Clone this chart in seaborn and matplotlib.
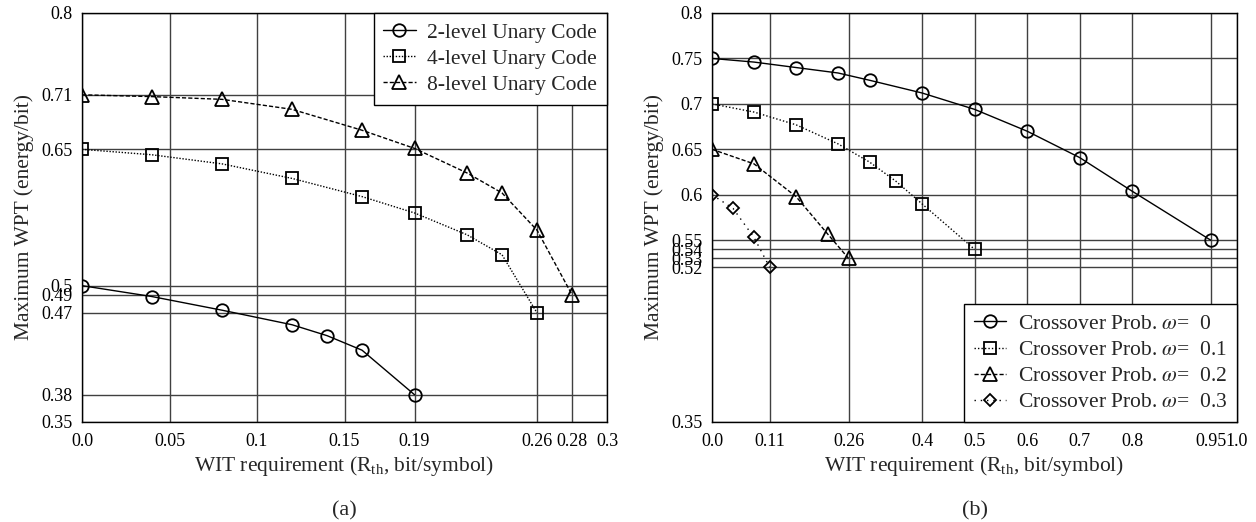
import matplotlib
matplotlib.use("Agg")
import matplotlib.pyplot as plt
import seaborn as sns

# ---- panel (a): unary codes ----
a_x2 = [0.0, 0.04, 0.08, 0.12, 0.14, 0.16, 0.19]
a_y2 = [0.50, 0.488, 0.473, 0.457, 0.445, 0.429, 0.38]
a_x4 = [0.0, 0.04, 0.08, 0.12, 0.16, 0.19, 0.22, 0.24, 0.26]
a_y4 = [0.65, 0.644, 0.634, 0.618, 0.598, 0.58, 0.556, 0.534, 0.47]
a_x8 = [0.0, 0.04, 0.08, 0.12, 0.16, 0.19, 0.22, 0.24, 0.26, 0.28]
a_y8 = [0.71, 0.708, 0.705, 0.694, 0.671, 0.651, 0.624, 0.602, 0.561, 0.49]
a_labels = ["2-level Unary Code", "4-level Unary Code", "8-level Unary Code"]
a_xticks = [0.0, 0.05, 0.1, 0.15, 0.19, 0.26, 0.28, 0.3]
a_xticklabels = ["0.0", "0.05", "0.1", "0.15", "0.19", "0.26", "0.28", "0.3"]
a_yticks = [0.35, 0.38, 0.47, 0.49, 0.5, 0.65, 0.71, 0.8]

# ---- panel (b): crossover probabilities ----
b_x0 = [0.0, 0.08, 0.16, 0.24, 0.30, 0.40, 0.5, 0.6, 0.7, 0.8, 0.95]
b_y0 = [0.75, 0.746, 0.74, 0.734, 0.726, 0.712, 0.694, 0.670, 0.641, 0.604, 0.55]
b_x1 = [0.0, 0.08, 0.16, 0.24, 0.30, 0.35, 0.40, 0.5]
b_y1 = [0.70, 0.691, 0.677, 0.656, 0.636, 0.615, 0.590, 0.54]
b_x2 = [0.0, 0.08, 0.16, 0.22, 0.26]
b_y2 = [0.65, 0.634, 0.598, 0.557, 0.53]
b_x3 = [0.0, 0.04, 0.08, 0.11]
b_y3 = [0.60, 0.585, 0.553, 0.52]
b_labels = [r"Crossover Prob. $\omega$=  0", r"Crossover Prob. $\omega$=  0.1",
            r"Crossover Prob. $\omega$=  0.2", r"Crossover Prob. $\omega$=  0.3"]
b_xticks = [0.0, 0.11, 0.26, 0.4, 0.5, 0.6, 0.7, 0.8, 0.95, 1.0]
b_xticklabels = ["0.0", "0.11", "0.26", "0.4", "0.5", "0.6", "0.7", "0.8", "0.95", "1.0"]
b_yticks = [0.35, 0.52, 0.53, 0.54, 0.55, 0.6, 0.65, 0.7, 0.75, 0.8]

sns.set_style("white")
plt.rcParams['font.family'] = ['Liberation Serif', 'DejaVu Serif']
plt.rcParams['mathtext.fontset'] = 'stix'

fig = plt.figure(figsize=(12.56, 5.22), dpi=100)
ax_a = fig.add_axes([0.0653, 0.1916, 0.418, 0.7835])
ax_b = fig.add_axes([0.5669, 0.1916, 0.418, 0.7835])

line_kw = dict(color="black", linewidth=1.0, markerfacecolor="none",
               markeredgecolor="black", markeredgewidth=1.3, sort=False,
               errorbar=None)


def series(ax, x, y, label, ls, marker, ms):
    sns.lineplot(x=x, y=y, ax=ax, label=label, linestyle=ls, marker=marker,
                 markersize=ms, **line_kw)


series(ax_a, a_x2, a_y2, a_labels[0], "-", "o", 9)
series(ax_a, a_x4, a_y4, a_labels[1], (0, (1, 1.2)), "s", 9)
series(ax_a, a_x8, a_y8, a_labels[2], (0, (3, 1.5)), "^", 9.5)

series(ax_b, b_x0, b_y0, b_labels[0], "-", "o", 9)
series(ax_b, b_x1, b_y1, b_labels[1], (0, (1, 1.5)), "s", 9)
series(ax_b, b_x2, b_y2, b_labels[2], (0, (3, 1.5)), "^", 9.5)
series(ax_b, b_x3, b_y3, b_labels[3], (0, (1, 3.5)), "D", 6.5)


def style_axes(ax, xlim, xt, xtl, yt):
    ax.set_xlim(*xlim)
    ax.set_ylim(0.35, 0.8)
    ax.set_xticks(xt)
    ax.set_xticklabels(xtl)
    ax.set_yticks(yt)
    ax.set_yticklabels([f"{v:g}" for v in yt])
    ax.tick_params(axis="x", length=0, pad=8, labelsize=13, colors="black")
    ax.tick_params(axis="y", length=0, pad=7, labelsize=13, colors="black")
    ax.grid(True, color="0.25", linewidth=1.0)
    ax.set_axisbelow(True)
    for s in ax.spines.values():
        s.set_color("black")
        s.set_linewidth(1.0)
    ax.set_xlabel(r"WIT requirement ($\mathregular{R_{th}}$, bit/symbol)",
                  fontsize=15.5, labelpad=3)
    ax.set_ylabel("Maximum WPT (energy/bit)", fontsize=15.5, labelpad=5)


style_axes(ax_a, (0, 0.3), a_xticks, a_xticklabels, a_yticks)
style_axes(ax_b, (0, 1.0), b_xticks, b_xticklabels, b_yticks)

leg_kw = dict(fontsize=15.5, fancybox=False, framealpha=1, edgecolor="black",
              borderaxespad=0, handlelength=1.5, borderpad=0.45,
              labelspacing=0.28, handletextpad=0.55)
la = ax_a.legend(loc="upper right", **leg_kw)
lb = ax_b.legend(loc="lower right", **leg_kw)
for lg in (la, lb):
    lg.get_frame().set_linewidth(1.0)

fig.text(0.2743, 0.022, "(a)", ha="center", va="center", fontsize=16)
fig.text(0.776, 0.022, "(b)", ha="center", va="center", fontsize=16)

fig.savefig("out.png", dpi=100)
